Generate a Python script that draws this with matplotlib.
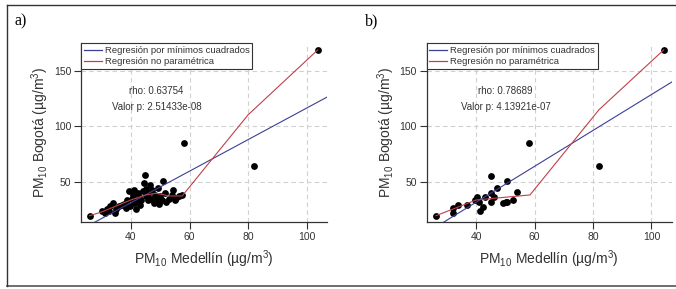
import numpy as np
import matplotlib
matplotlib.use("Agg")
import matplotlib.pyplot as plt
from matplotlib.lines import Line2D

plt.rcParams['font.family'] = ['Liberation Sans', 'DejaVu Sans']
plt.rcParams['mathtext.fontset'] = 'custom'
plt.rcParams['mathtext.rm'] = 'Liberation Sans'
plt.rcParams['mathtext.it'] = 'Liberation Sans'

# panel a) data (PM10 Medellin vs PM10 Bogota)
med_a = [25.9, 30.0, 31.2, 31.8, 32.5, 33.0, 33.8, 34.5, 35.0, 36.0, 36.8, 37.5,
         38.2, 38.8, 39.4, 39.8, 40.2, 40.6, 41.0, 41.2, 41.6, 42.0, 42.3, 42.8,
         43.2, 43.6, 44.0, 44.3, 44.8, 45.0, 45.3, 45.7, 46.0, 46.5, 46.9, 47.3,
         47.8, 48.2, 48.8, 49.2, 49.6, 50.0, 50.5, 51.0, 51.5, 52.0, 53.0, 54.0,
         54.5, 55.0, 55.5, 56.5, 57.5, 58.2, 82.0, 103.8]
bog_a = [19.6, 23.5, 22.5, 25.5, 24.0, 28.5, 31.0, 22.5, 26.0, 28.0, 29.5, 30.5,
         26.5, 33.5, 42.0, 28.0, 35.0, 38.5, 43.0, 31.0, 25.5, 33.0, 40.0, 36.5,
         29.0, 34.0, 41.5, 49.0, 56.0, 37.0, 44.0, 33.5, 39.5, 47.0, 35.0, 42.5,
         31.5, 38.5, 34.0, 45.0, 30.5, 37.0, 33.5, 50.5, 40.0, 32.0, 35.0, 38.0,
         43.0, 34.0, 36.0, 37.0, 38.0, 85.0, 64.7, 168.9]
ols_a = (1.42, -25.5)            # slope, intercept
np_x_a = [25.9, 30.3, 40.0, 45.1, 48.6, 53.1, 57.5, 80.0, 103.8]
np_y_a = [19.6, 23.3, 33.8, 38.3, 39.8, 37.4, 37.4, 110.4, 168.9]
rho_a = "rho: 0.63754"
pval_a = "Valor p: 2.51433e-08"

# panel b) data
med_b = [26.2, 31.9, 32.1, 33.7, 36.8, 39.7, 40.4, 40.9, 41.2, 42.4, 42.9, 45.0,
         45.0, 45.0, 46.2, 47.0, 49.3, 50.1, 50.6, 50.6, 52.6, 54.1, 58.1, 82.0,
         104.2]
bog_b = [19.6, 26.3, 21.8, 29.7, 29.1, 33.8, 36.8, 32.3, 24.2, 27.8, 36.8, 55.7,
         39.8, 32.3, 36.8, 44.9, 30.8, 31.9, 32.3, 50.9, 33.8, 41.3, 84.9, 64.7,
         168.9]
ols_b = (1.615, -32.8)
np_x_b = [26.2, 40.0, 58.4, 82.0, 104.2]
np_y_b = [19.6, 33.8, 38.3, 114.9, 168.9]
rho_b = "rho: 0.78689"
pval_b = "Valor p: 4.13921e-07"

panels = [
    ("a)", med_a, bog_a, ols_a, np_x_a, np_y_a, rho_a, pval_a, [0.120, 0.232, 0.364, 0.619], 48.7, 0.021),
    ("b)", med_b, bog_b, ols_b, np_x_b, np_y_b, rho_b, pval_b, [0.631, 0.232, 0.363, 0.619], 50.1, 0.540),
]

blue = '#3b3f94'
red = '#c0404a'
txt = '#333333'

fig = plt.figure(figsize=(6.76, 2.89), dpi=100)

# outer frame (top, bottom, left)
fig.add_artist(Line2D([0.011, 1.0], [0.984, 0.984], color='#333333', lw=1.0))
fig.add_artist(Line2D([0.011, 1.0], [0.010, 0.010], color='#555555', lw=1.2))
fig.add_artist(Line2D([0.011, 0.011], [0.010, 0.984], color='#333333', lw=1.0))

for lab, mx, by, ols, nx, ny, rho, pval, rect, tx, lx in panels:
    ax = fig.add_axes(rect)
    ax.set_xlim(23, 107)
    ax.set_ylim(14, 175)
    ax.set_xticks([40, 60, 80, 100])
    ax.set_yticks([50, 100, 150])
    ax.grid(True, color='#d0d0d0', linestyle=(0, (4, 3)), lw=0.8)
    ax.set_axisbelow(True)
    for s in ['top', 'right']:
        ax.spines[s].set_visible(False)
    for s in ['left', 'bottom']:
        ax.spines[s].set_color('#333333')
        ax.spines[s].set_linewidth(0.9)
    ax.tick_params(direction='out', length=5, width=0.8, colors='#333333',
                   labelsize=7.5, labelcolor=txt, pad=2)

    ax.scatter(mx, by, s=24, color='black', zorder=3, linewidths=0)
    xl = np.array(ax.get_xlim())
    ax.plot(xl, ols[0] * xl + ols[1], color=blue, lw=0.8, zorder=4)
    ax.plot(nx, ny, color=red, lw=0.8, zorder=4)
    ax.set_xlim(23, 107)

    ax.text(tx, 132, rho, ha='center', va='center', fontsize=7, color=txt)
    ax.text(tx, 117.5, pval, ha='center', va='center', fontsize=7, color=txt)

    leg = ax.legend([Line2D([], [], color=blue, lw=0.9), Line2D([], [], color=red, lw=0.9)],
                    ['Regresión por mínimos cuadrados', 'Regresión no paramétrica'],
                    loc='upper left', bbox_to_anchor=(0, 1), fontsize=6.8,
                    frameon=True, fancybox=False, framealpha=1, edgecolor='#333333',
                    handlelength=1.9, handletextpad=0.3, borderpad=0.3,
                    labelspacing=0.25, borderaxespad=0)
    leg.get_frame().set_linewidth(0.8)
    for t in leg.get_texts():
        t.set_color(txt)

    ax.set_xlabel('PM$_{10}$ Medellín (µg/m$^3$)', fontsize=10, color=txt, labelpad=5)
    ax.set_ylabel('PM$_{10}$ Bogotá (µg/m$^3$)', fontsize=10, color=txt, labelpad=2)

    fig.text(lx, 0.925, lab, fontsize=11.5, family='Liberation Serif', ha='left', va='center')

fig.savefig('out.png', dpi=100)
